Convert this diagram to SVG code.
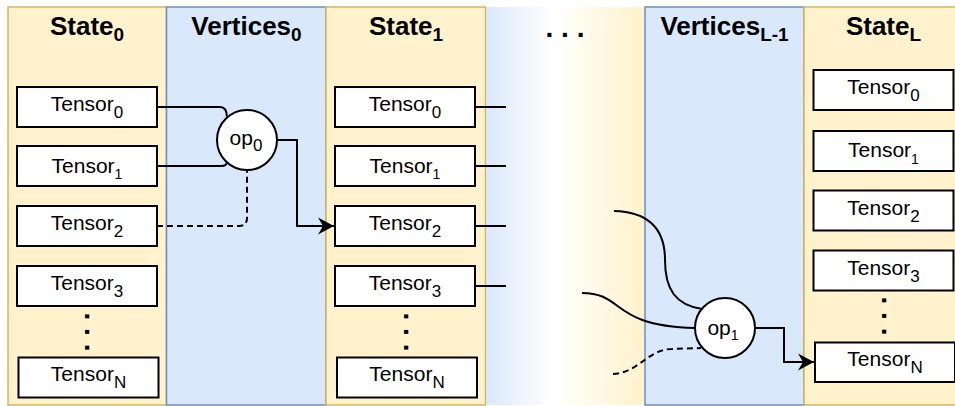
<svg xmlns="http://www.w3.org/2000/svg" width="955" height="406" viewBox="0 0 955 406">
<style>
.st{fill:#fff2cc;stroke:#d6b656;stroke-width:1.5}
.vx{fill:#dae8fc;stroke:#6c8ebf;stroke-width:1.5}
.title{font-family:"Liberation Sans",Arial,sans-serif;font-weight:bold;font-size:26px;fill:#000;text-anchor:middle}
.tsub{font-size:19px}
.box{fill:#fff;stroke:#000;stroke-width:2}
.lbl{font-family:"Liberation Sans",Arial,sans-serif;font-size:21px;fill:#000;text-anchor:middle}
.sub{font-size:17px}
.sub1{font-size:14px}
.dots{font-family:"Liberation Sans",Arial,sans-serif;font-weight:bold;font-size:28px;fill:#000;text-anchor:middle}
.op{fill:#fff;stroke:#000;stroke-width:2}
.ln{fill:none;stroke:#000;stroke-width:2}
.dash{stroke-dasharray:6 4}
</style>
<defs>
<linearGradient id="fade" x1="0" y1="0" x2="1" y2="0">
<stop offset="0" stop-color="#dae8fc"/>
<stop offset="0.42" stop-color="#ffffff"/>
<stop offset="1" stop-color="#fff2cc"/>
</linearGradient>
<marker id="arr" viewBox="-17 -10 18 20" refX="0" refY="0" markerWidth="18" markerHeight="20" markerUnits="userSpaceOnUse" orient="auto">
<path d="M0,0 L-16,-8.5 L-11,0 L-16,8.5 Z" fill="#000"/>
</marker>
</defs>

<g id="columns">
<g id="state0"><rect class="st" x="8" y="7" width="158.5" height="398"/><text class="title" x="87" y="35">State<tspan class="tsub" dy="6">0</tspan></text></g>
<g id="vertices0"><rect class="vx" x="166.5" y="7" width="159.5" height="398"/><text class="title" x="246.5" y="35">Vertices<tspan class="tsub" dy="6">0</tspan></text></g>
<g id="state1"><rect class="st" x="326" y="7" width="159.5" height="398"/><text class="title" x="406" y="35">State<tspan class="tsub" dy="6">1</tspan></text></g>
<g id="gap"><rect x="486" y="7" width="159" height="398" fill="url(#fade)"/><text class="dots" x="565" y="37">. . .</text></g>
<g id="verticesL1"><rect class="vx" x="645" y="7" width="159" height="398"/><text class="title" x="724.5" y="35">Vertices<tspan class="tsub" dy="6">L-1</tspan></text></g>
<g id="stateL"><rect class="st" x="804" y="7" width="160" height="398"/><text class="title" x="883.5" y="35">State<tspan class="tsub" dy="6">L</tspan></text></g>
</g>

<g id="connectors">
<path class="ln" d="M157,107 H220 Q227,107 227,117.5"/>
<path class="ln" d="M157,166 H221 Q227,166 227,162"/>
<path class="ln dash" d="M157,226 H239 Q247,226 247,218 V170"/>
<path class="ln" d="M277,140 H297 V226 H334" marker-end="url(#arr)"/>
<path class="ln" d="M475,107 H506"/>
<path class="ln" d="M475,166 H506"/>
<path class="ln" d="M475,226 H506"/>
<path class="ln" d="M475,286 H506"/>
<path class="ln" d="M614,211 C650,212 665,230 665,260 C665,290 676,305 702,309"/>
<path class="ln" d="M582,293 C625,293 610,326 695,328"/>
<path class="ln dash" d="M613,374 C640,372 648,349 672,349 L701,348"/>
<path class="ln" d="M755,328 H784 V362 H814" marker-end="url(#arr)"/>
</g>

<g id="s0-t0"><rect class="box" x="17" y="87" width="140" height="40"/><text class="lbl" x="87" y="111">Tensor<tspan class="sub" dy="7">0</tspan></text></g>
<g id="s0-t1"><rect class="box" x="17" y="146" width="140" height="40"/><text class="lbl" x="87" y="172.5">Tensor<tspan class="sub1" dy="6.5">1</tspan></text></g>
<g id="s0-t2"><rect class="box" x="17" y="206" width="140" height="40"/><text class="lbl" x="87" y="230">Tensor<tspan class="sub" dy="7">2</tspan></text></g>
<g id="s0-t3"><rect class="box" x="17" y="266" width="140" height="40"/><text class="lbl" x="87" y="290">Tensor<tspan class="sub" dy="7">3</tspan></text></g>
<g id="s0-dots"><text class="dots" transform="translate(87,332) rotate(90)" x="0" y="2">. . .</text></g>
<g id="s0-tN"><rect class="box" x="18.5" y="357.5" width="140" height="40"/><text class="lbl" x="88.5" y="381">Tensor<tspan class="sub" dy="7">N</tspan></text></g>

<g id="op0"><circle class="op" cx="247" cy="140" r="30"/><text class="lbl" x="246" y="145">op<tspan class="sub" dy="6">0</tspan></text></g>

<g id="s1-t0"><rect class="box" x="335" y="87" width="140" height="40"/><text class="lbl" x="405" y="111">Tensor<tspan class="sub" dy="7">0</tspan></text></g>
<g id="s1-t1"><rect class="box" x="335" y="146" width="140" height="40"/><text class="lbl" x="405" y="172.5">Tensor<tspan class="sub1" dy="6.5">1</tspan></text></g>
<g id="s1-t2"><rect class="box" x="335" y="206" width="140" height="40"/><text class="lbl" x="405" y="230">Tensor<tspan class="sub" dy="7">2</tspan></text></g>
<g id="s1-t3"><rect class="box" x="335" y="266" width="140" height="40"/><text class="lbl" x="405" y="290">Tensor<tspan class="sub" dy="7">3</tspan></text></g>
<g id="s1-dots"><text class="dots" transform="translate(405.5,332) rotate(90)" x="0" y="2">. . .</text></g>
<g id="s1-tN"><rect class="box" x="337" y="357.5" width="140" height="40"/><text class="lbl" x="407" y="381">Tensor<tspan class="sub" dy="7">N</tspan></text></g>

<g id="op1"><circle class="op" cx="725" cy="328" r="30"/><text class="lbl" x="723" y="335">op<tspan class="sub1" dy="5">1</tspan></text></g>

<g id="sL-t0"><rect class="box" x="813.5" y="70" width="140" height="40"/><text class="lbl" x="883.5" y="94">Tensor<tspan class="sub" dy="7">0</tspan></text></g>
<g id="sL-t1"><rect class="box" x="813.5" y="131" width="140" height="40"/><text class="lbl" x="883.5" y="157">Tensor<tspan class="sub1" dy="6.5">1</tspan></text></g>
<g id="sL-t2"><rect class="box" x="813.5" y="190.5" width="140" height="40"/><text class="lbl" x="883.5" y="214.5">Tensor<tspan class="sub" dy="7">2</tspan></text></g>
<g id="sL-t3"><rect class="box" x="813.5" y="250.5" width="140" height="40"/><text class="lbl" x="883.5" y="274.5">Tensor<tspan class="sub" dy="7">3</tspan></text></g>
<g id="sL-dots"><text class="dots" transform="translate(883.5,316) rotate(90)" x="0" y="2">. . .</text></g>
<g id="sL-tN"><rect class="box" x="815" y="342.5" width="140" height="39.5"/><text class="lbl" x="885" y="366">Tensor<tspan class="sub" dy="7">N</tspan></text></g>
</svg>
